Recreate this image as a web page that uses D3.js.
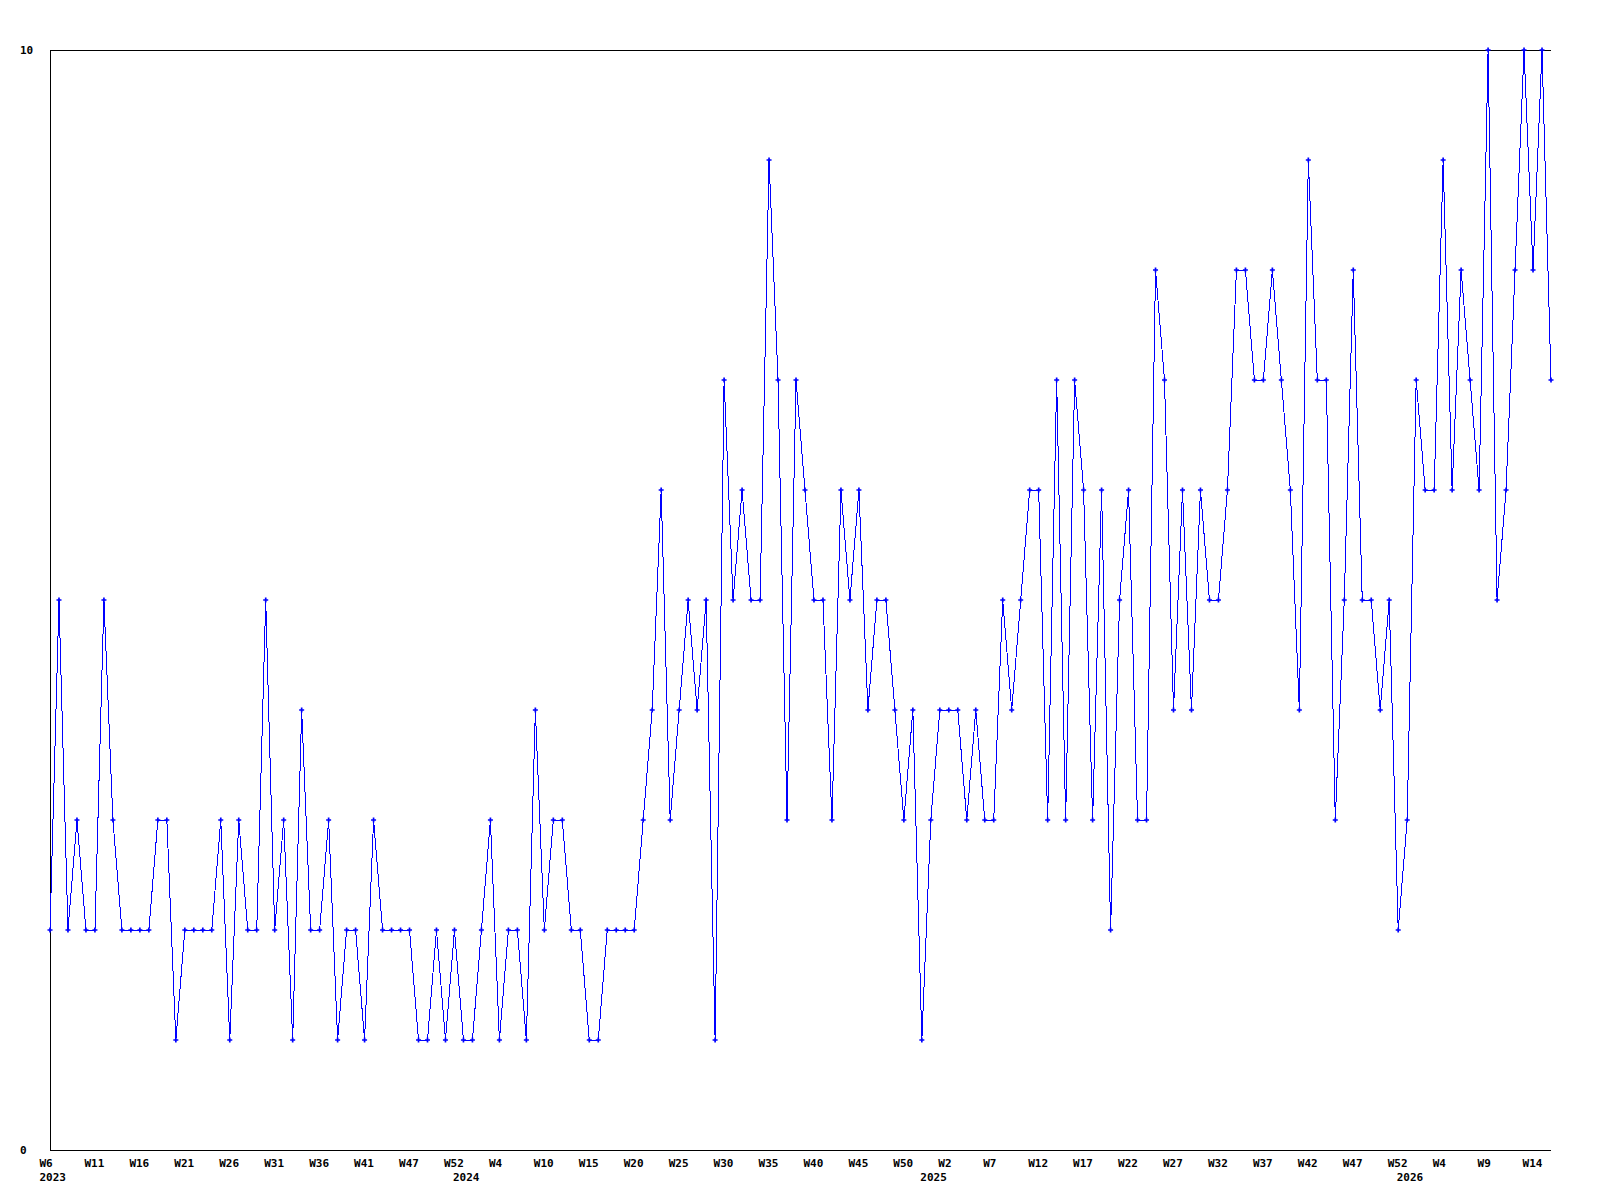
<!DOCTYPE html>
<html>
<head>
<meta charset="utf-8">
<script src="https://cdn.jsdelivr.net/npm/d3@7"></script>
<style>
  html, body { margin: 0; padding: 0; background: #fff; }
  svg { display: block; }
  text { font-family: "DejaVu Sans Mono", "Liberation Mono", monospace; font-weight: bold; font-size: 11px; fill: #000; }
</style>
</head>
<body>
<svg id="chart" width="1600" height="1200"></svg>
<script>
// Weekly values, 2023 W6 onward (168 weeks)
const values = [
  2,5,2,3,2,2,5,3,2,2,
  2,2,3,3,1,2,2,2,2,3,
  1,3,2,2,5,2,3,1,4,2,
  2,3,1,2,2,1,3,2,2,2,
  2,1,1,2,1,2,1,1,2,3,
  1,2,2,1,4,2,3,3,2,2,
  1,1,2,2,2,2,3,4,6,3,
  4,5,4,5,1,7,5,6,5,5,
  9,7,3,7,6,5,5,3,6,5,
  6,4,5,5,4,3,4,1,3,4,
  4,4,3,4,3,3,5,4,5,6,
  6,3,7,3,7,6,3,6,2,5,
  6,3,3,8,7,4,6,4,6,5,
  5,6,8,8,7,7,8,7,6,4,
  9,7,7,3,5,8,5,5,4,5,
  2,3,7,6,6,9,6,8,7,6,
  10,5,6,8,10,8,10,7
];
// Week tick labels, one every 5 points
const weekLabels = ["W6","W11","W16","W21","W26","W31","W36","W41","W47","W52",
  "W4","W10","W15","W20","W25","W30","W35","W40","W45","W50",
  "W2","W7","W12","W17","W22","W27","W32","W37","W42","W47",
  "W52","W4","W9","W14"];
const yearLabels = ["2023","2024","2025","2026"];
const yearIndex = [0, 46, 98, 151];
const yTickValues = [0, 10];

const svg = d3.select("#chart");
const plotLeft = 50, plotRight = 1551, plotTop = 50, plotBottom = 1150;

const x = d3.scaleLinear().domain([0, values.length - 1]).range([plotLeft, plotRight]);
const y = d3.scaleLinear().domain([0, 10]).range([plotBottom, plotTop]);

// frame: top, left, bottom lines
const g = svg.append("g").attr("shape-rendering", "crispEdges");
g.append("line").attr("x1", plotLeft).attr("x2", plotRight).attr("y1", y(10) + 0.5).attr("y2", y(10) + 0.5)
  .attr("stroke", "#000").attr("stroke-width", 1);
g.append("line").attr("x1", plotLeft + 0.5).attr("x2", plotLeft + 0.5).attr("y1", plotTop).attr("y2", plotBottom)
  .attr("stroke", "#000").attr("stroke-width", 1);
g.append("line").attr("x1", plotLeft).attr("x2", plotRight).attr("y1", y(0) + 0.5).attr("y2", y(0) + 0.5)
  .attr("stroke", "#000").attr("stroke-width", 1);

// y labels
svg.append("g").selectAll("text").data(yTickValues).join("text")
  .attr("x", 20).attr("y", d => y(d) + 4)
  .text(d => d);

// x tick labels
svg.append("g").selectAll("text").data(weekLabels).join("text")
  .attr("x", (d, i) => x(i * 5) - 10.5)
  .attr("y", 1167)
  .text(d => d);

// year labels
svg.append("g").selectAll("text").data(yearLabels).join("text")
  .attr("x", (d, i) => x(yearIndex[i]) - 10.5)
  .attr("y", 1181)
  .text(d => d);

// data line
const line = d3.line().x((d, i) => x(i)).y(d => y(d));
svg.append("path").datum(values)
  .attr("d", line)
  .attr("fill", "none")
  .attr("stroke", "#0000ff")
  .attr("stroke-width", 1)
  .attr("shape-rendering", "crispEdges");

// markers
const sym = d3.symbol().type(d3.symbolCross).size(14);
svg.append("g").selectAll("path").data(values).join("path")
  .attr("transform", (d, i) => `translate(${x(i)},${y(d)})`)
  .attr("d", sym)
  .attr("fill", "#0000ff");
</script>
</body>
</html>
